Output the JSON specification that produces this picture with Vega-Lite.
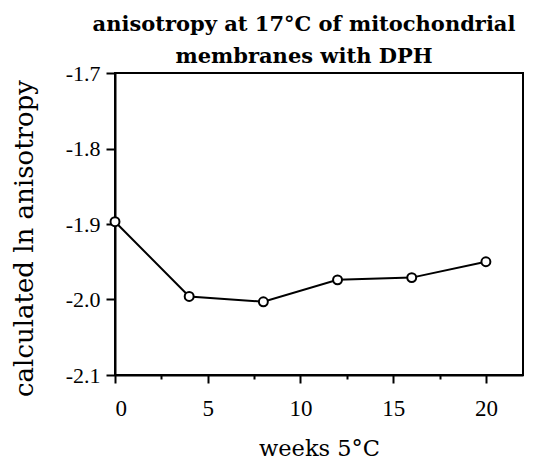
{
  "$schema": "https://vega.github.io/schema/vega-lite/v6.json",
  "autosize": {"type": "none"},
  "width": 408,
  "height": 302,
  "padding": {"left": 115, "top": 73, "right": 12, "bottom": 96},
  "background": "white",
  "title": {
    "text": ["anisotropy at 17°C of mitochondrial", "membranes with DPH"],
    "font": "DejaVu Serif",
    "fontSize": 21,
    "fontWeight": "bold",
    "color": "black",
    "anchor": "middle",
    "dx": -15,
    "dy": 11,
    "offset": 6,
    "lineHeight": 32
  },
  "config": {
    "view": {"stroke": "black", "strokeWidth": 2},
    "axis": {
      "domainColor": "black",
      "domainWidth": 2,
      "tickColor": "black",
      "tickWidth": 2,
      "grid": false,
      "labelFont": "Liberation Serif",
      "labelFontSize": 22,
      "labelColor": "black",
      "titleFont": "DejaVu Serif",
      "titleFontWeight": "normal",
      "titleColor": "black"
    }
  },
  "data": {
    "values": [
      {"weeks": 0, "aniso": -1.897},
      {"weeks": 4, "aniso": -1.996},
      {"weeks": 8, "aniso": -2.003},
      {"weeks": 12, "aniso": -1.974},
      {"weeks": 16, "aniso": -1.971},
      {"weeks": 20, "aniso": -1.950}
    ]
  },
  "encoding": {
    "x": {
      "field": "weeks",
      "type": "quantitative",
      "scale": {"domain": [0, 22], "nice": false, "zero": false},
      "axis": {
        "title": "weeks 5°C",
        "titleFontSize": 22.5,
        "titleBaseline": "alphabetic",
        "titleY": 80,
        "values": [0, 2.5, 5, 7.5, 10, 12.5, 15, 17.5, 20],
        "labelExpr": "datum.value % 5 === 0 ? datum.label : ''",
        "tickSize": {"condition": {"test": "datum.value % 5 !== 0", "value": 4}, "value": 8},
        "labelPadding": 14,
        "labelFontSize": 23,
        "labelBaseline": "top"
      }
    },
    "y": {
      "field": "aniso",
      "type": "quantitative",
      "scale": {"domain": [-2.1, -1.7], "nice": false, "zero": false},
      "axis": {
        "title": "calculated ln anisotropy",
        "titleFontSize": 26,
        "titleX": -78,
        "titleY": 165,
        "values": [-2.1, -2.0, -1.9, -1.8, -1.7],
        "labelExpr": "replace(format(datum.value, '.1f'), '−', '-')",
        "tickSize": 9,
        "labelPadding": 6
      }
    }
  },
  "layer": [
    {"mark": {"type": "line", "color": "black", "strokeWidth": 2}},
    {"mark": {"type": "point", "filled": true, "fill": "white", "stroke": "black", "strokeWidth": 2, "size": 80, "opacity": 1}}
  ]
}
